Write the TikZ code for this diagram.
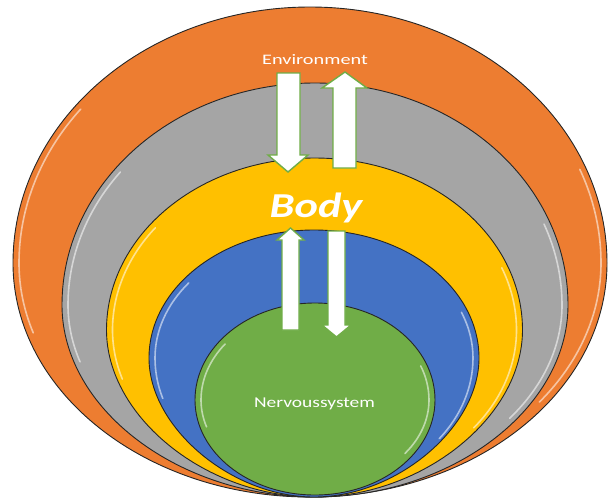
\documentclass[tikz,border=0pt]{standalone}
\usepackage{fontspec}
\setmainfont{Carlito}
\definecolor{envorange}{HTML}{ED7D31}
\definecolor{ringgray}{HTML}{A5A5A5}
\definecolor{bodyyellow}{HTML}{FFC000}
\definecolor{ringblue}{HTML}{4472C4}
\definecolor{nervgreen}{HTML}{70AD47}
\tikzset{
  ring/.style={draw=black!85, line width=0.9pt},
  gloss/.style={draw=white, line width=1.6pt, opacity=0.55, line cap=round},
  flowarrow/.style={fill=white, draw=nervgreen, line width=1.4pt, line join=miter},
  ringtext/.style={text=white, inner sep=0pt, anchor=base}
}
\begin{document}
\begin{tikzpicture}[x=1pt,y=-1pt]
  \useasboundingbox (0,0) rectangle (608,499);
  % rings, outside in: centre x, half width, widest y, top y, bottom y, bulge
  \foreach \cx/\rx/\cw/\top/\bot/\k/\col in {310/297/263/7/497/0.552/envorange,
      315/253/305/83/497/0.54/ringgray, 314.5/208/330/158/497/0.52/bodyyellow,
      314/165/358/230/497/0.5/ringblue, 315/120/400/303/495/0.552/nervgreen}{
    \pgfmathsetmacro\ryt{\cw-\top}
    \pgfmathsetmacro\ryb{\bot-\cw}
    \draw[ring, fill=\col] (\cx-\rx,\cw)
      arc[start angle=180, end angle=360, x radius=\rx, y radius=\ryt]
      .. controls ({\cx+\rx},{\cw+\k*\ryb}) and ({\cx+\k*\rx},\bot) .. (\cx,\bot)
      .. controls ({\cx-\k*\rx},\bot) and ({\cx-\rx},{\cw+\k*\ryb}) .. cycle;
    \pgfmathsetmacro\gx{\rx-6}
    \pgfmathsetmacro\gt{\ryt-6}
    \pgfmathsetmacro\gb{\ryb-8}
    \draw[gloss] ({\cx+\gx*cos(218)},{\cw+\gt*sin(218)})
      arc[start angle=218, end angle=180, x radius=\gx, y radius=\gt]
      arc[start angle=180, end angle=162, x radius=\gx, y radius=\gb];
    \draw[gloss] ({\cx+\gx*cos(-22)},{\cw+\gt*sin(-22)})
      arc[start angle=-22, end angle=0, x radius=\gx, y radius=\gt]
      arc[start angle=0, end angle=38, x radius=\gx, y radius=\gb];
  }
  % Environment <-> Body
  \draw[flowarrow] (277,73) -- (300,73) -- (300,155) -- (308,155) -- (288,172)
    -- (268,155) -- (277,155) -- cycle;
  \draw[flowarrow] (333,168) -- (356,168) -- (356,88) -- (367,88) -- (345,72)
    -- (322,88) -- (333,88) -- cycle;
  % Body <-> Nervoussystem
  \draw[flowarrow] (282,330) -- (299,330) -- (299,240) -- (304,240) -- (290.5,228)
    -- (277,240) -- (282,240) -- cycle;
  \draw[flowarrow] (328,231) -- (345,231) -- (345,325) -- (351,325) -- (336.5,337)
    -- (322,325) -- (328,325) -- cycle;
  % labels
  \node[ringtext, font=\fontsize{14.5}{16}\selectfont] (env) at (315,64)
    {\scalebox{1.4}[1]{Environment}};
  \node[ringtext, font=\bfseries\itshape\fontsize{35}{40}\selectfont] (body) at (316,217)
    {\scalebox{1.27}[1]{Body}};
  \node[ringtext, font=\fontsize{15}{17}\selectfont] (nerv) at (314.5,407)
    {\scalebox{1.3}[1]{Nervoussystem}};
\end{tikzpicture}
\end{document}
